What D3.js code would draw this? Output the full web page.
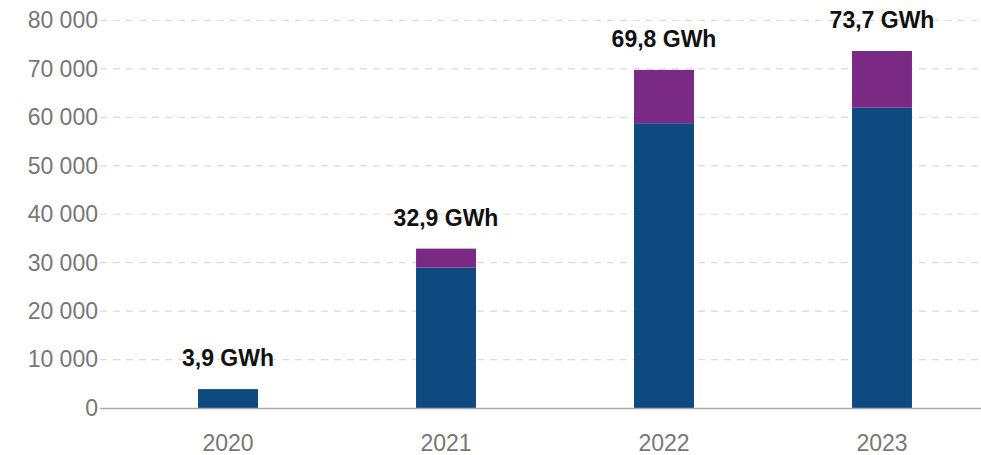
<!DOCTYPE html>
<html><head><meta charset="utf-8">
<script src="https://cdn.jsdelivr.net/npm/d3@7"></script>
<style>body{margin:0;background:#fff;} svg{display:block;}</style>
</head><body>
<script>
const years = ["2020","2021","2022","2023"];
const blueValues = [3900, 29000, 58800, 62000];
const purpleValues = [0, 3900, 11000, 11700];
const totalLabels = ["3,9 GWh","32,9 GWh","69,8 GWh","73,7 GWh"];
const yTicks = [0,10000,20000,30000,40000,50000,60000,70000,80000];

const W = 981, H = 455;
const svg = d3.select("body").append("svg").attr("width", W).attr("height", H);
const y = d3.scaleLinear().domain([0, 80000]).range([408, 20.5]);
const x = d3.scaleBand().domain(years).range([119, 991]).paddingInner(0.725).paddingOuter(0.3625);
const fmt = v => d3.format(",")(v).replace(/,/g, " ");

// grid
svg.append("g").selectAll("line").data(yTicks.filter(d => d > 0)).join("line")
  .attr("x1", 100).attr("x2", W).attr("y1", d => y(d)).attr("y2", d => y(d))
  .attr("stroke", "#dcdcdc").attr("stroke-width", 1.2).attr("stroke-dasharray", "7,6");

// y axis labels
const yAxis = d3.axisLeft(y).tickValues(yTicks).tickFormat(fmt).tickSize(0).tickPadding(0);
const ga = svg.append("g").attr("transform", "translate(98,0)").call(yAxis);
ga.select(".domain").remove();
ga.selectAll("text").attr("font-family", "Liberation Sans, Arial, sans-serif").attr("font-size", 23).attr("fill", "#777");

// bars
const data = years.map((yr, i) => ({yr, b: blueValues[i], p: purpleValues[i], label: totalLabels[i]}));
svg.append("g").selectAll("rect").data(data).join("rect")
  .attr("x", d => x(d.yr)).attr("width", x.bandwidth())
  .attr("y", d => y(d.b)).attr("height", d => y(0) - y(d.b)).attr("fill", "#0e4a80");
svg.append("g").selectAll("rect").data(data.filter(d => d.p > 0)).join("rect")
  .attr("x", d => x(d.yr)).attr("width", x.bandwidth())
  .attr("y", d => y(d.b + d.p)).attr("height", d => y(d.b) - y(d.b + d.p)).attr("fill", "#7a2a84");

// baseline
svg.append("line").attr("x1", 100).attr("x2", W).attr("y1", y(0)+0.5).attr("y2", y(0)+0.5)
  .attr("stroke", "#aaa").attr("stroke-width", 1.5);

// x axis labels
const xAxis = d3.axisBottom(x).tickSize(0).tickPadding(0);
const gx = svg.append("g").attr("transform", "translate(0,434)").call(xAxis);
gx.select(".domain").remove();
gx.selectAll("text").attr("dy", "0").attr("y", 17).attr("font-family", "Liberation Sans, Arial, sans-serif").attr("font-size", 23).attr("fill", "#777");

// total labels
svg.append("g").selectAll("text").data(data).join("text")
  .attr("x", d => x(d.yr) + x.bandwidth()/2).attr("y", d => y(d.b + d.p) - 23)
  .attr("text-anchor", "middle").attr("font-family", "Liberation Sans, Arial, sans-serif")
  .attr("font-weight", "bold").attr("font-size", 23).attr("fill", "#111").text(d => d.label);
</script>
</body></html>
